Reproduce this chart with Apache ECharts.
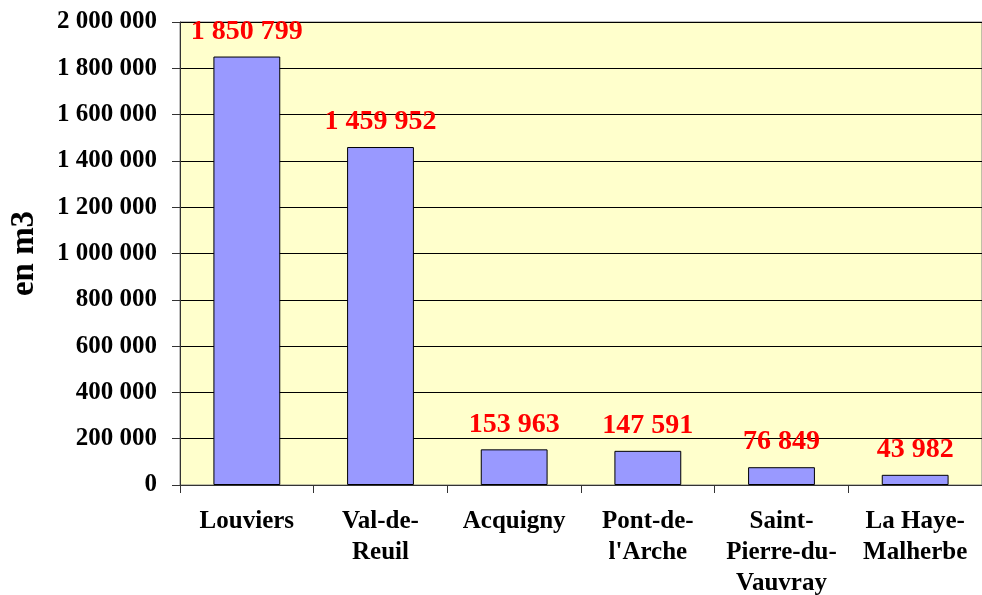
<!DOCTYPE html>
<html>
<head>
<meta charset="utf-8">
<script src="https://cdn.jsdelivr.net/npm/echarts@6/dist/echarts.min.js"></script>
<style>
  html, body { margin: 0; padding: 0; background: #fff; }
  #chart { width: 982px; height: 595px; }
</style>
</head>
<body>
<div id="chart"></div>
<script>
const communes = ['Louviers', 'Val-de-\nReuil', 'Acquigny', 'Pont-de-\nl\'Arche', 'Saint-\nPierre-du-\nVauvray', 'La Haye-\nMalherbe'];
const volumes = [1850799, 1459952, 153963, 147591, 76849, 43982];

function fmt(v) {
  return String(v).replace(/\B(?=(\d{3})+(?!\d))/g, ' ');
}

const chart = echarts.init(document.getElementById('chart'));
const font = '"Liberation Serif", "Times New Roman", serif';

chart.setOption({
  animation: false,
  grid: {
    left: 180,
    right: 0,
    top: 22,
    bottom: 110,
    outerBoundsMode: 'none',
    containLabel: false,
    show: true,
    backgroundColor: '#FFFFCC',
    borderColor: '#808080',
    borderWidth: 1
  },
  xAxis: {
    type: 'category',
    data: communes,
    axisLine: { lineStyle: { color: '#333', width: 1 } },
    axisTick: { show: true, length: 8, lineStyle: { color: '#333' } },
    axisLabel: {
      interval: 0,
      margin: 21,
      fontFamily: font,
      fontWeight: 'bold',
      fontSize: 25,
      lineHeight: 31,
      color: '#000'
    }
  },
  yAxis: {
    type: 'value',
    min: 0,
    max: 2000000,
    interval: 200000,
    name: 'en m3',
    nameLocation: 'middle',
    nameGap: 139,
    nameRotate: 90,
    nameTextStyle: { fontFamily: font, fontWeight: 'bold', fontSize: 33, color: '#000' },
    axisLine: { show: true, lineStyle: { color: '#333', width: 1 } },
    axisTick: { show: true, length: 8, lineStyle: { color: '#333' } },
    splitLine: { lineStyle: { color: '#000', width: 1 } },
    axisLabel: {
      margin: 23,
      fontFamily: font,
      fontWeight: 'bold',
      fontSize: 25,
      color: '#000',
      formatter: fmt
    }
  },
  series: [{
    type: 'bar',
    data: volumes,
    barWidth: '50%',
    itemStyle: { color: '#9999FF', borderColor: '#000', borderWidth: 1 },
    label: {
      show: true,
      position: 'top',
      distance: 11,
      fontFamily: font,
      fontWeight: 'bold',
      fontSize: 28,
      color: '#FF0000',
      formatter: p => fmt(p.value)
    }
  }]
});
</script>
</body>
</html>
